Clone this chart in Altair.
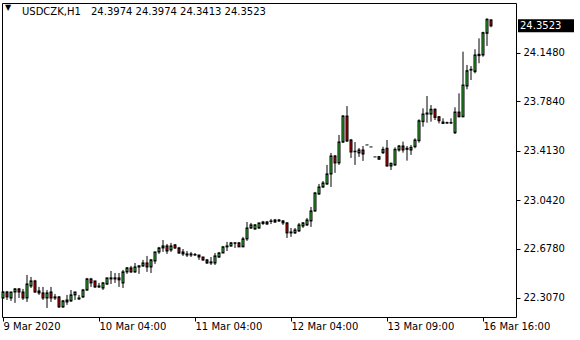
import altair as alt
import pandas as pd

# ---- data (USDCZK, H1) ----
OPEN = [
    22.307, 22.352, 22.307, 22.352, 22.375, 22.352, 22.307, 22.397, 22.435, 22.360,
    22.345, 22.307, 22.352, 22.315, 22.315, 22.240, 22.277, 22.285, 22.330, 22.300,
    22.315, 22.367, 22.450, 22.435, 22.397, 22.382, 22.412, 22.450, 22.458, 22.458,
    22.420, 22.503, 22.533, 22.503, 22.540, 22.548, 22.570, 22.540, 22.585, 22.653,
    22.683, 22.698, 22.668, 22.706, 22.683, 22.653, 22.638, 22.638, 22.634, 22.630,
    22.615, 22.593, 22.578, 22.570, 22.615, 22.645, 22.691, 22.698, 22.721, 22.721,
    22.691, 22.751, 22.833, 22.826, 22.833, 22.878, 22.863, 22.882, 22.878, 22.886,
    22.886, 22.871, 22.803, 22.796, 22.811, 22.848, 22.856, 22.886, 22.961, 23.089,
    23.141, 23.164, 23.239, 23.374, 23.322, 23.479, 23.674, 23.494, 23.410, 23.397,
    23.419, 23.457, 23.442, 23.367, 23.350, 23.399, 23.432, 23.299, 23.307, 23.419,
    23.449, 23.432, 23.419, 23.444, 23.489, 23.632, 23.689, 23.689, 23.725, 23.669,
    23.629, 23.625, 23.622, 23.549, 23.704, 23.669, 23.900, 24.020, 24.008, 24.128,
    24.133, 24.296, 24.3974,
]
HIGH = [
    22.360, 22.360, 22.352, 22.382, 22.382, 22.375, 22.480, 22.465, 22.443, 22.390,
    22.390, 22.367, 22.390, 22.337, 22.322, 22.292, 22.330, 22.367, 22.352, 22.330,
    22.375, 22.458, 22.458, 22.435, 22.420, 22.427, 22.458, 22.510, 22.495, 22.495,
    22.518, 22.540, 22.548, 22.570, 22.555, 22.593, 22.623, 22.600, 22.653, 22.691,
    22.743, 22.713, 22.721, 22.713, 22.691, 22.675, 22.660, 22.653, 22.645, 22.630,
    22.615, 22.600, 22.615, 22.645, 22.653, 22.698, 22.728, 22.728, 22.728, 22.728,
    22.766, 22.878, 22.871, 22.863, 22.871, 22.886, 22.886, 22.901, 22.901, 22.901,
    22.893, 22.878, 22.833, 22.833, 22.871, 22.878, 22.908, 22.991, 23.104, 23.164,
    23.186, 23.307, 23.397, 23.382, 23.532, 23.682, 23.749, 23.502, 23.479, 23.434,
    23.449, 23.457, 23.442, 23.367, 23.374, 23.444, 23.494, 23.324, 23.439, 23.457,
    23.482, 23.449, 23.457, 23.507, 23.650, 23.732, 23.825, 23.757, 23.732, 23.674,
    23.657, 23.632, 23.657, 23.740, 23.845, 24.158, 24.058, 24.050, 24.176, 24.258,
    24.308, 24.409, 24.3974,
]
LOW = [
    22.300, 22.292, 22.285, 22.270, 22.307, 22.292, 22.277, 22.382, 22.345, 22.330,
    22.292, 22.232, 22.277, 22.292, 22.232, 22.232, 22.255, 22.277, 22.292, 22.292,
    22.307, 22.360, 22.390, 22.382, 22.382, 22.367, 22.405, 22.412, 22.420, 22.390,
    22.382, 22.488, 22.495, 22.495, 22.488, 22.540, 22.503, 22.495, 22.563, 22.638,
    22.653, 22.638, 22.653, 22.675, 22.638, 22.623, 22.615, 22.615, 22.623, 22.593,
    22.585, 22.563, 22.555, 22.555, 22.608, 22.645, 22.660, 22.691, 22.683, 22.691,
    22.691, 22.736, 22.826, 22.818, 22.826, 22.856, 22.856, 22.863, 22.871, 22.878,
    22.856, 22.758, 22.766, 22.788, 22.803, 22.833, 22.848, 22.841, 22.954, 23.081,
    23.134, 23.156, 23.141, 23.247, 23.307, 23.472, 23.479, 23.359, 23.307, 23.367,
    23.337, 23.457, 23.442, 23.367, 23.344, 23.389, 23.294, 23.269, 23.299, 23.407,
    23.399, 23.339, 23.382, 23.432, 23.474, 23.594, 23.624, 23.632, 23.644, 23.619,
    23.614, 23.614, 23.614, 23.539, 23.664, 23.664, 23.875, 23.945, 23.995, 24.071,
    24.120, 24.201, 24.3413,
]
CLOSE = [
    22.352, 22.315, 22.352, 22.375, 22.352, 22.307, 22.412, 22.435, 22.352, 22.345,
    22.307, 22.345, 22.307, 22.307, 22.240, 22.285, 22.292, 22.330, 22.352, 22.307,
    22.367, 22.450, 22.420, 22.390, 22.390, 22.420, 22.458, 22.458, 22.450, 22.443,
    22.503, 22.533, 22.503, 22.540, 22.548, 22.570, 22.540, 22.593, 22.653, 22.683,
    22.698, 22.660, 22.698, 22.683, 22.645, 22.638, 22.630, 22.630, 22.630, 22.615,
    22.593, 22.570, 22.570, 22.623, 22.645, 22.691, 22.698, 22.721, 22.718, 22.691,
    22.751, 22.833, 22.856, 22.856, 22.871, 22.867, 22.878, 22.886, 22.893, 22.893,
    22.871, 22.796, 22.796, 22.818, 22.856, 22.871, 22.893, 22.961, 23.096, 23.141,
    23.171, 23.239, 23.374, 23.322, 23.479, 23.674, 23.487, 23.404, 23.406, 23.419,
    23.389, 23.457, 23.442, 23.367, 23.369, 23.424, 23.299, 23.319, 23.424, 23.449,
    23.419, 23.424, 23.439, 23.494, 23.639, 23.689, 23.697, 23.725, 23.664, 23.639,
    23.619, 23.622, 23.625, 23.704, 23.669, 23.907, 24.015, 24.025, 24.133, 24.138,
    24.301, 24.401, 24.3523,
]

Y_TICKS = [22.3070, 22.6780, 23.0420, 23.4130, 23.7840, 24.1480]
X_TICK_BARS = [0, 24, 48, 72, 96, 120]
X_TICK_LABELS = ["9 Mar 2020", "10 Mar 04:00", "11 Mar 04:00",
                 "12 Mar 04:00", "13 Mar 09:00", "16 Mar 16:00"]
SYMBOL = "USDCZK,H1"
HEADER_PRICES = "24.3974 24.3974 24.3413 24.3523"

GREEN = "#32cd32"
RED = "#e00000"
FONT = "DejaVu Sans"

df = pd.DataFrame({
    "i": list(range(len(OPEN))),
    "open": OPEN, "high": HIGH, "low": LOW, "close": CLOSE,
})

label_map = "{" + ",".join(f"'{b}':'{t}'" for b, t in zip(X_TICK_BARS, X_TICK_LABELS)) + "}"

x_enc = alt.X(
    "i:Q",
    scale=alt.Scale(domain=[-0.25, 128.25], nice=False, zero=False, padding=0),
    axis=alt.Axis(values=X_TICK_BARS, labelExpr=f"{label_map}[datum.value]",
                  title=None, grid=False, domain=False, tickSize=4,
                  labelAlign="left", labelFlush=False, labelOverlap=False,
                  labelPadding=0, labelBaseline="top"),
)
y_scale = alt.Scale(domain=[22.164, 24.5237], nice=False, zero=False, padding=0)

base = alt.Chart(df).transform_calculate(
    top="max(datum.open, datum.close)",
    bot="min(datum.open, datum.close)",
)

wicks = base.mark_rule(color="black", strokeWidth=1).encode(
    x=x_enc,
    y=alt.Y("low:Q", scale=y_scale,
            axis=alt.Axis(orient="right", values=Y_TICKS, format=".4f",
                          title=None, grid=False, domain=False, tickSize=4,
                          labelFlush=False, labelOverlap=False, labelPadding=3)),
    y2="high:Q",
)

# black outline body (3 px wide) and coloured core (1 px wide)
outline = base.mark_bar(size=3, color="black", yOffset=-0.5, y2Offset=0.5).encode(
    x="i:Q", y="top:Q", y2="bot:Q",
)
core = base.transform_filter("datum.top - datum.bot > 0.012").mark_bar(
    size=1, yOffset=1, y2Offset=-1
).encode(
    x="i:Q", y="top:Q", y2="bot:Q",
    color=alt.condition("datum.close >= datum.open", alt.value(GREEN), alt.value(RED)),
)

last = base.transform_filter(f"datum.i == {len(OPEN) - 1}")
tag_box = last.mark_tick(orient="horizontal", color="black", thickness=13,
                         size=56, opacity=1).encode(
    x=alt.value(544), y="close:Q")
tag_text = last.mark_text(color="white", align="left", baseline="middle",
                          font=FONT, fontSize=10).encode(
    x=alt.value(518), y="close:Q", text=alt.Text("close:Q", format=".4f"))

hdr = pd.DataFrame({"sym": [SYMBOL], "prices": [HEADER_PRICES]})
hdr_base = alt.Chart(hdr)
tri = hdr_base.mark_text(text="▼", font=FONT, fontSize=8, color="black",
                         align="left", baseline="middle").encode(
    x=alt.value(3), y=alt.value(5))
sym = hdr_base.mark_text(font=FONT, fontSize=10, color="black",
                         align="left", baseline="middle").encode(
    x=alt.value(20), y=alt.value(9), text="sym:N")
prices = hdr_base.mark_text(font=FONT, fontSize=10, color="black",
                            align="left", baseline="middle").encode(
    x=alt.value(89), y=alt.value(9), text="prices:N")

chart = alt.layer(wicks, outline, core, tag_box, tag_text, tri, sym, prices).properties(
    width=514, height=314,
    autosize=alt.AutoSizeParams(type="none"),
    padding={"left": 2, "top": 3, "right": 64, "bottom": 23},
    background="white",
).configure_view(
    stroke="black", strokeWidth=1
).configure_axis(
    labelFont=FONT, labelFontSize=10, labelColor="black", tickColor="black",
)

chart.save("out.html", embed_options={"renderer": "svg", "actions": False})
